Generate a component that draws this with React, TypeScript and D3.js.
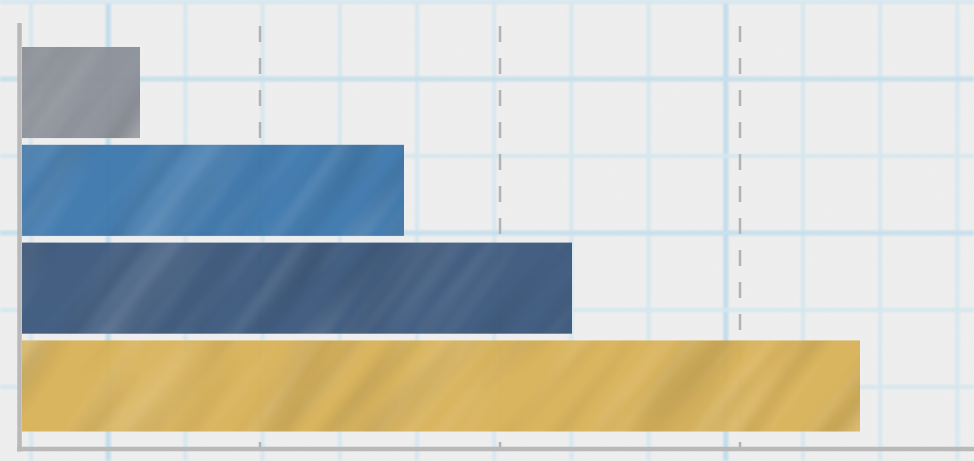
import React from "react";
import * as d3 from "d3";

const categories = ["Item 1", "Item 2", "Item 3", "Item 4"];
const values = [0.5, 1.6, 2.3, 3.5];
const barColors = ["#8c9199", "#3f79ad", "#3e5a7e", "#d8b35a"];
const xTicks = [1, 2, 3];

const W = 974;
const H = 461;

export default function App() {
  const x = d3.scaleLinear().domain([0, 4]).range([20, 980]);
  const y = d3.scaleBand<string>().domain(categories).range([47, 431.5]).paddingInner(0.069).paddingOuter(0);

  const vLines = d3.range(0, 13).map((i) => 31 + i * 77.2);
  const hLines = d3.range(0, 7).map((i) => 2 + i * 77);
  const vMajor = [1, 9];
  const hMajor = [1, 3];

  return (
    <>
      <style>{`body{margin:0}`}</style>
      <svg width={W} height={H} style={{ display: "block" }}>
        <defs>
          <filter id="blur" x="-5%" y="-5%" width="110%" height="110%">
            <feGaussianBlur stdDeviation="1.1" />
          </filter>
          <filter id="paper" x="0" y="0" width="100%" height="100%">
            <feTurbulence type="fractalNoise" baseFrequency="0.8" numOctaves="2" seed="5" />
            <feColorMatrix type="matrix" values="0 0 0 0 0.6  0 0 0 0 0.6  0 0 0 0 0.65  1 0 0 0 -0.45" />
          </filter>
          <filter id="streakL" x="0" y="0" width="100%" height="100%">
            <feTurbulence type="fractalNoise" baseFrequency="0.003 0.04" numOctaves="2" seed="3" />
            <feColorMatrix type="matrix" values="0 0 0 0 1  0 0 0 0 1  0 0 0 0 1  1.5 0 0 0 -0.68" />
            <feGaussianBlur stdDeviation="2.5" />
          </filter>
          <filter id="streakD" x="0" y="0" width="100%" height="100%">
            <feTurbulence type="fractalNoise" baseFrequency="0.004 0.03" numOctaves="2" seed="11" />
            <feColorMatrix type="matrix" values="0 0 0 0 0  0 0 0 0 0  0 0 0 0 0  1.5 0 0 0 -0.68" />
            <feGaussianBlur stdDeviation="3" />
          </filter>
          {categories.map((c, i) => (
            <clipPath id={`clip${i}`} key={c}>
              <rect x={x(0) + 2} y={y(c)} width={x(values[i]) - x(0) - 2} height={y.bandwidth()} />
            </clipPath>
          ))}
        </defs>

        {/* paper */}
        <rect x={0} y={0} width={W} height={H} fill="#eeeeee" />
        <rect x={0} y={0} width={W} height={H} filter="url(#paper)" opacity={0.1} />
        <g filter="url(#blur)">
          {vLines.map((vx, i) => (
            <line key={`v${i}`} x1={vx} x2={vx} y1={0} y2={H}
              stroke={vMajor.includes(i) ? "#c2ddeb" : "#d6e7ef"} strokeWidth={vMajor.includes(i) ? 5 : 4} />
          ))}
          {hLines.map((hy, i) => (
            <line key={`h${i}`} x1={0} x2={W} y1={hy} y2={hy}
              stroke={hMajor.includes(i) ? "#c8e0ec" : "#d6e7ef"} strokeWidth={hMajor.includes(i) ? 5 : 4} />
          ))}
        </g>

        {/* dashed value grid */}
        {xTicks.map((t) => (
          <line key={t} x1={x(t)} x2={x(t)} y1={26} y2={447}
            stroke="#b2b2b2" strokeWidth={2.5} strokeDasharray="16 16" />
        ))}

        {/* bars */}
        {categories.map((c, i) => {
          const bx = x(0) + 2;
          const by = y(c)!;
          const bw = x(values[i]) - x(0) - 2;
          const bh = y.bandwidth();
          const cx = bx + bw / 2;
          const cy = by + bh / 2;
          return (
            <g key={c}>
              <rect x={bx} y={by} width={bw} height={bh} fill={barColors[i]} opacity={0.97} />
              <g clipPath={`url(#clip${i})`}>
                <g transform={`rotate(-52 ${cx} ${cy})`}>
                  <rect x={cx - 600} y={cy - 600} width={1200} height={1200} filter="url(#streakL)" opacity={0.28} />
                  <rect x={cx - 600} y={cy - 600} width={1200} height={1200} filter="url(#streakD)" opacity={0.16} />
                </g>
              </g>
            </g>
          );
        })}

        {/* axes */}
        <line x1={19.5} x2={19.5} y1={23} y2={451.5} stroke="#b9b9b9" strokeWidth={4.5} />
        <line x1={17} x2={W} y1={449} y2={449} stroke="#b9b9b9" strokeWidth={4.5} />
      </svg>
    </>
  );
}
